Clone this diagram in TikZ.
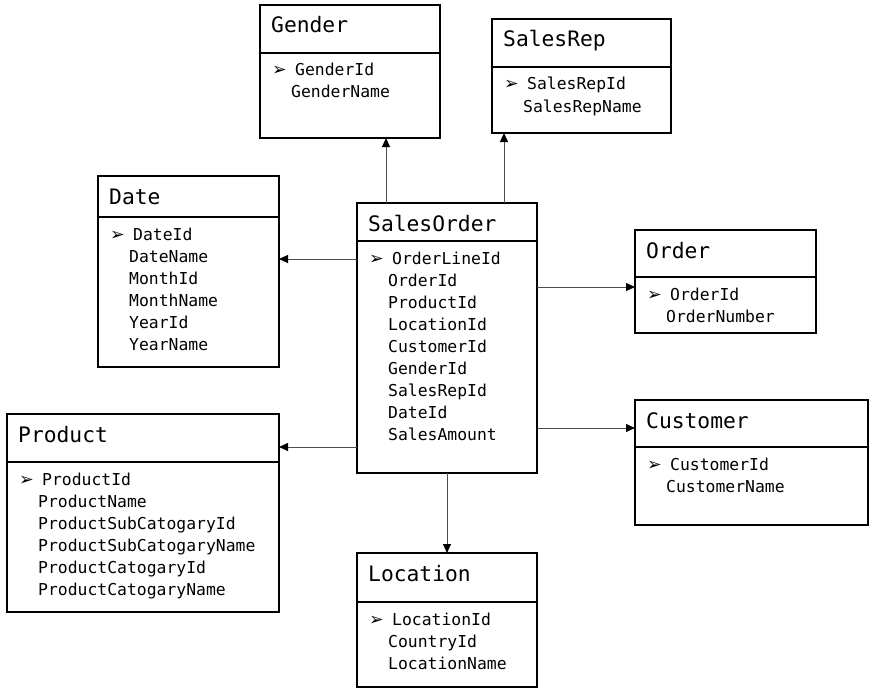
\documentclass[tikz,border=0pt]{standalone}
\usepackage{fontspec}
\setmonofont{DejaVu Sans Mono}
\newfontfamily\dejavu{DejaVu Sans}
\usetikzlibrary{arrows.meta}
\tikzset{
  x=1pt,y=-1pt,
  entbox/.style={draw=black, line width=1.3pt, fill=white, anchor=north west, inner sep=0pt, outer sep=0pt},
  divider/.style={draw=black, line width=1.3pt},
  ttl/.style={anchor=base west, inner sep=0pt, font=\fontsize{21.3}{24}\selectfont\ttfamily},
  rowtext/.style={anchor=base west, inner sep=0pt, font=\fontsize{16.4}{22}\selectfont\ttfamily},
  bul/.style={anchor=base west, inner sep=0pt, font=\fontsize{17.5}{18}\selectfont\dejavu},
  link/.style={draw=gray!60!black, line width=0.9pt, -{Triangle[length=9pt,width=8pt,color=black]}},
}
\newcommand\entity[8]{%
  \node[entbox, minimum width=#4pt, minimum height=#5pt] (#1) at (#2,#3) {};
  \draw[divider] ([yshift=-#6pt]#1.north west) -- ([yshift=-#6pt]#1.north east);
  \node[ttl] (#1-title) at ([xshift=11pt,yshift=-28pt]#1.north west) {#7};
  \node[bul] (#1-bullet) at ([xshift=12pt,yshift={-#6pt-23pt}]#1.north west) {➢};
  \foreach \r [count=\i from 0] in {#8} {
    \node[rowtext] (#1-row\i) at ([xshift=31pt,yshift={-#6pt-23pt-22pt*\i}]#1.north west) {\ifnum\i=0 \hspace{4pt}\fi\r};
  }
}
\begin{document}
\begin{tikzpicture}
  \useasboundingbox[fill=white] (0,0) rectangle (876,693);
  \entity{gender}{260}{5}{180}{133}{48}{Gender}{GenderId,GenderName}
  \entity{salesrep}{492}{19}{179}{114}{48}{SalesRep}{SalesRepId,SalesRepName}
  \entity{date}{98}{176}{181}{191}{41}{Date}{DateId,DateName,MonthId,MonthName,YearId,YearName}
  \entity{so}{357}{203}{180}{270}{38}{SalesOrder}{OrderLineId,OrderId,ProductId,LocationId,CustomerId,GenderId,SalesRepId,DateId,SalesAmount}
  \entity{order}{635}{230}{181}{103}{47}{Order}{OrderId,OrderNumber}
  \entity{customer}{635}{400}{233}{125}{47}{Customer}{CustomerId,CustomerName}
  \entity{product}{7}{414}{272}{198}{48}{Product}{ProductId,ProductName,ProductSubCatogaryId,ProductSubCatogaryName,ProductCatogaryId,ProductCatogaryName}
  \entity{location}{357}{553}{180}{134}{49}{Location}{LocationId,CountryId,LocationName}
  % connector guides
  \coordinate (gx) at (386,0);
  \coordinate (sx) at (504,0);
  \coordinate (lx) at (447,0);
  \coordinate (dy) at (0,259);
  \coordinate (oy) at (0,287);
  \coordinate (cy) at (0,428);
  \coordinate (py) at (0,447);
  \draw[link] (so.north -| gx) -- (gender.south -| gx);
  \draw[link] (so.north -| sx) -- (salesrep.south -| sx);
  \draw[link] (so.west |- dy) -- (date.east |- dy);
  \draw[link] (so.east |- oy) -- (order.west |- oy);
  \draw[link] (so.east |- cy) -- (customer.west |- cy);
  \draw[link] (so.west |- py) -- (product.east |- py);
  \draw[link] (so.south -| lx) -- (location.north -| lx);
\end{tikzpicture}
\end{document}
